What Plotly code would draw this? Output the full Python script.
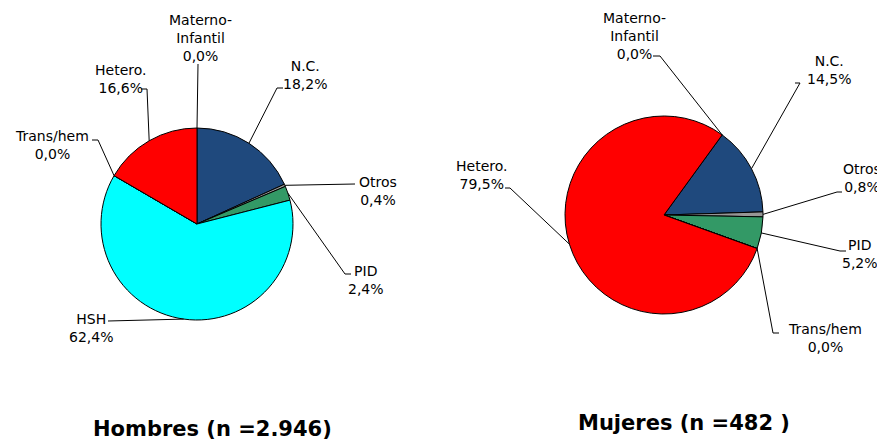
import math

import plotly.graph_objects as go

categories = ['Materno-Infantil', 'N.C.', 'Otros', 'PID', 'HSH', 'Trans/hem', 'Hetero.']
label_text = ['Materno-<br>Infantil', 'N.C.', 'Otros', 'PID', 'HSH', 'Trans/hem', 'Hetero.']
colors = ['#FFFFFF', '#1F497D', '#969696', '#339966', '#00FFFF', '#FFFFFF', '#FF0000']

hombres = [0.0, 18.2, 0.4, 2.4, 62.4, 0.0, 16.6]
mujeres = [0.0, 14.5, 0.8, 5.2, 0.0, 0.0, 79.5]

titles = ['Hombres (n =2.946)', 'Mujeres (n =482 )']

# the page body has an 8px margin, so the figure is drawn 8px smaller and
# all positions below (window pixels) are shifted by that offset
OFF = 8
W, H = 885 - OFF, 446 - OFF

# pie geometry in window pixels: center x, center y, radius, start angle
pies = [
    dict(values=hombres, cx=197, cy=224, r=96, rot=0),
    dict(values=mujeres, cx=664, cy=215, r=99, rot=36),
]

# label layout: category -> (text x, text y, elbow x, elbow y, tick length)
label_pos = [
    {
        'Materno-Infantil': (200, 38, 198, 64, 0),
        'N.C.': (305, 75, 277, 88, 6),
        'Otros': (378, 191, 355, 184, 0),
        'PID': (366, 280, 345, 274, 6),
        'HSH': (91, 328, 108, 321, 0),
        'Trans/hem': (52, 145, 98, 140, -6),
        'Hetero.': (120, 79, 147, 89, -6),
    },
    {
        'Materno-Infantil': (634, 36, 660, 56, -7),
        'N.C.': (829, 70, 800, 83, -5),
        'Otros': (862, 178, 837, 192, 5),
        'PID': (860, 254, 840, 251, 6),
        'Trans/hem': (825, 338, 773, 333, 6),
        'Hetero.': (481, 175, 510, 188, -5),
    },
]

title_pos = [(212, 429), (684, 423)]


def px(x):
    return (x - OFF) / W


def py(y):
    return 1 - (y - OFF) / H


fig = go.Figure()
annotations = []
shapes = []

for p, labels, title, tpos in zip(pies, label_pos, titles, title_pos):
    fig.add_trace(go.Pie(
        labels=categories,
        values=p['values'],
        sort=False,
        direction='clockwise',
        rotation=p['rot'],
        marker=dict(colors=colors, line=dict(color='black', width=1)),
        textinfo='none',
        hoverinfo='label+percent',
        showlegend=False,
        domain=dict(x=[px(p['cx'] - p['r']), px(p['cx'] + p['r'])],
                    y=[py(p['cy'] + p['r']), py(p['cy'] - p['r'])]),
    ))

    total = sum(p['values'])
    cum = 0.0
    for cat, txt, v in zip(categories, label_text, p['values']):
        mid = p['rot'] + (cum + v / 2) / total * 360
        cum += v
        if cat not in labels:
            continue
        tx, ty, ex, ey, tick = labels[cat]
        ax = p['cx'] + p['r'] * math.sin(math.radians(mid))
        ay = p['cy'] - p['r'] * math.cos(math.radians(mid))
        path = f'M {px(ax)},{py(ay)} L {px(ex)},{py(ey)} L {px(ex + tick)},{py(ey)}'
        shapes.append(dict(type='path', xref='paper', yref='paper', path=path,
                           line=dict(color='black', width=1)))
        pct = f'{v:.1f}%'.replace('.', ',')
        annotations.append(dict(
            x=px(tx), y=py(ty), xref='paper', yref='paper',
            text=f'{txt}<br>{pct}',
            showarrow=False, xanchor='center', yanchor='middle',
            font=dict(size=14, color='black'),
        ))

    annotations.append(dict(
        x=px(tpos[0]), y=py(tpos[1]), xref='paper', yref='paper',
        text=f'<b>{title}</b>', showarrow=False, xanchor='center', yanchor='middle',
        font=dict(size=21, color='black'),
    ))

fig.update_layout(
    width=W,
    height=H,
    margin=dict(l=0, r=0, t=0, b=0),
    paper_bgcolor='white',
    plot_bgcolor='white',
    font=dict(family='DejaVu Sans', color='black'),
    annotations=annotations,
    shapes=shapes,
)

fig.write_html('out.html')
